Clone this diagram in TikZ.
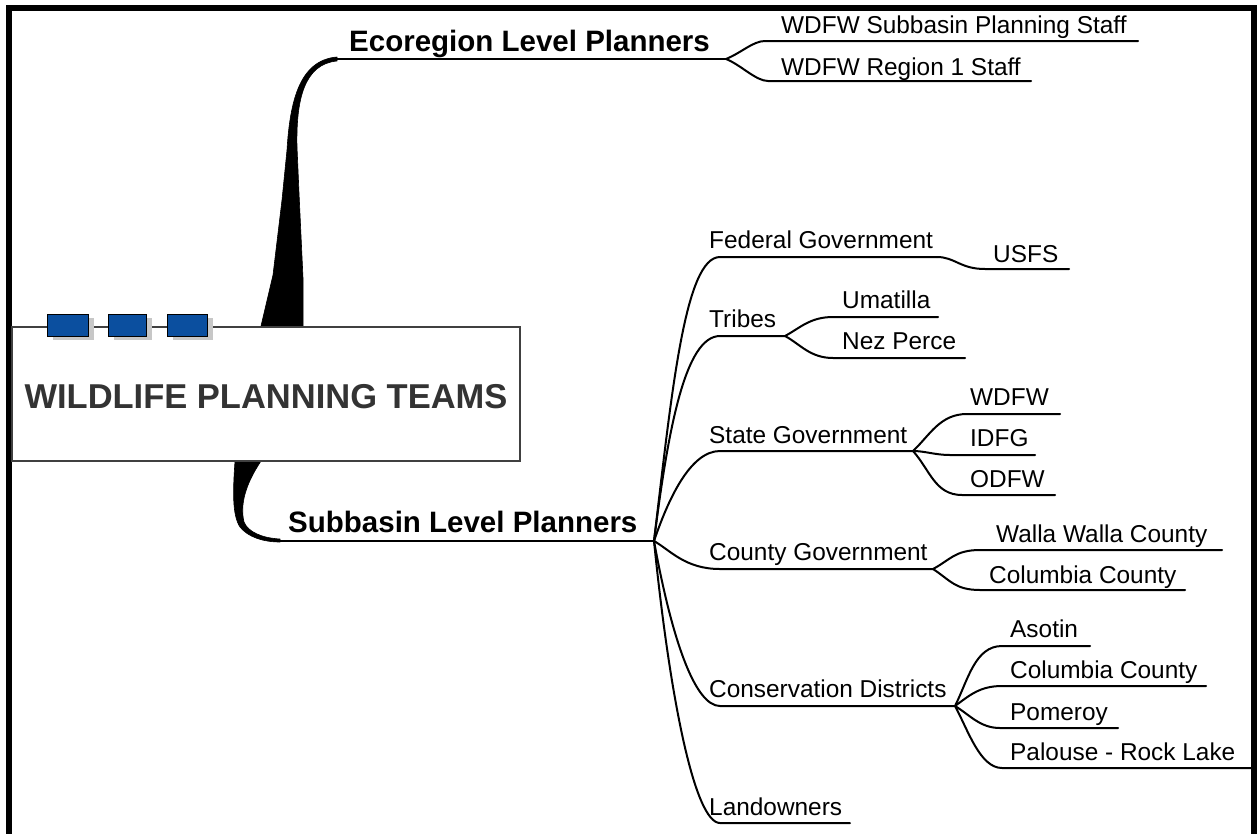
\documentclass[tikz,border=0pt]{standalone}
\usepackage{fontspec}
\setmainfont{Liberation Sans}
\definecolor{boxblue}{HTML}{0B4F9F}
\definecolor{titlegrey}{HTML}{333333}
\tikzset{
  conn/.style={line width=2pt, line cap=round, line join=round},
  lbl/.style={anchor=base west, inner sep=0pt, font=\fontsize{24.4}{28}\selectfont},
  blbl/.style={anchor=base west, inner sep=0pt, font=\bfseries\fontsize{29.5}{34}\selectfont},
  bluebox/.style={fill=boxblue, draw=black, line width=1pt},
  shadowbox/.style={fill=black!22, draw=none},
  frame/.style={line width=6pt, line join=miter},
  taper/.style={fill=black, draw=black, line width=0.6pt, line join=round},
}
\begin{document}
\begin{tikzpicture}[x=1pt, y=-1pt]
\useasboundingbox (0,0) rectangle (1257,833);
\fill[white] (0,0) rectangle (1257,833);
% frame
\draw[frame] (9,840) -- (9,7.5) -- (1253.5,7.5) -- (1253.5,840);

% coordinates: main branches
\coordinate (eco-s) at (337,59);
\coordinate (eco-e) at (726,59);
\coordinate (sub-s) at (277,541);
\coordinate (sub-e) at (654,541);

% tapered branches from the central box
\fill[taper] (261,345) -- (261,326) -- (273,275) -- (282,200) -- (287,150)
   .. controls (290,100) and (300,60) .. (337,57) -- (337,61)
   .. controls (304,64) and (296,100) .. (297,147) -- (299,193) -- (303,278) -- (303,345) -- cycle;
\fill[taper] (235,440) -- (235,461) .. controls (233,490) and (232,515) .. (240,527)
   .. controls (248,537) and (263,542) .. (280,542) -- (280,539)
   .. controls (262,538) and (248,532) .. (244,522)
   .. controls (240,505) and (245,485) .. (261,461) -- (261,440) -- cycle;
\draw[conn] (eco-s) -- (eco-e);
\draw[conn] (sub-s) -- (sub-e);

% central box
\draw[fill=white, draw=black!75, line width=1.2pt] (12,327) rectangle (520,461);
\node[anchor=base, inner sep=0pt, text=titlegrey, font=\bfseries\fontsize{34.5}{40}\selectfont] (title) at (266,408) {WILDLIFE PLANNING TEAMS};
% blue tabs
\foreach \a/\b [count=\i] in {47/88,108/146,167/207}{
  \fill[shadowbox] (\a+6,317.5) rectangle (\b+6,339.5);
  \draw[bluebox] (\a,314) rectangle (\b,336);
}

% main labels
\node[blbl] (eco) at (349,51) {Ecoregion Level Planners};
\node[blbl] (sub) at (288,532) {Subbasin Level Planners};

% ecoregion children
\node[lbl] (wsps) at (781,33) {WDFW Subbasin Planning Staff};
\node[lbl] (wr1) at (781,75) {WDFW Region 1 Staff};
\coordinate (wsps-s) at (765,41); \coordinate (wsps-e) at (1138,41);
\coordinate (wr1-s) at (768,81); \coordinate (wr1-e) at (1031,81);
\draw[conn] (eco-e) .. controls +(15,-6) and +(-12,0) .. (wsps-s) -- (wsps-e);
\draw[conn] (eco-e) .. controls +(15,6) and +(-12,0) .. (wr1-s) -- (wr1-e);

% subbasin children
\node[lbl] (fed) at (709,248) {Federal Government};
\node[lbl] (tri) at (709,327) {Tribes};
\node[lbl] (sta) at (709,443) {State Government};
\node[lbl] (cou) at (709,560) {County Government};
\node[lbl] (con) at (709,697) {Conservation Districts};
\node[lbl] (lan) at (709,815) {Landowners};
\coordinate (fed-s) at (720,257); \coordinate (fed-e) at (937,257);
\coordinate (tri-s) at (720,336); \coordinate (tri-e) at (785,336);
\coordinate (sta-s) at (720,451); \coordinate (sta-e) at (913,451);
\coordinate (cou-s) at (720,569); \coordinate (cou-e) at (933,569);
\coordinate (con-s) at (720,706); \coordinate (con-e) at (955,706);
\coordinate (lan-s) at (720,823); \coordinate (lan-e) at (850,823);
\draw[conn] (sub-e) .. controls +(18,-151) and +(-35,0) .. (fed-s) -- (fed-e);
\draw[conn] (sub-e) .. controls +(14,-111) and +(-35,0) .. (tri-s) -- (tri-e);
\draw[conn] (sub-e) .. controls +(14,-41) and +(-30,0) .. (sta-s) -- (sta-e);
\draw[conn] (sub-e) .. controls +(16,9) and +(-35,0) .. (cou-s) -- (cou-e);
\draw[conn] (sub-e) .. controls +(18,99) and +(-25,0) .. (con-s) -- (con-e);
\draw[conn] (sub-e) .. controls +(16,159) and +(-25,0) .. (lan-s) -- (lan-e);

% federal
\node[lbl] (usfs) at (993,262) {USFS};
\coordinate (usfs-s) at (985,269); \coordinate (usfs-e) at (1069,269);
\draw[conn] (fed-e) .. controls +(18,0) and +(-25,0) .. (usfs-s) -- (usfs-e);

% tribes
\node[lbl] (uma) at (842,308) {Umatilla};
\node[lbl] (nez) at (842,349) {Nez Perce};
\coordinate (uma-s) at (833,317); \coordinate (uma-e) at (938,317);
\coordinate (nez-s) at (833,358); \coordinate (nez-e) at (965,358);
\draw[conn] (tri-e) .. controls +(15,-8) and +(-23,0) .. (uma-s) -- (uma-e);
\draw[conn] (tri-e) .. controls +(15,8) and +(-23,0) .. (nez-s) -- (nez-e);

% state
\node[lbl] (wdfw) at (970,405) {WDFW};
\node[lbl] (idfg) at (970,446) {IDFG};
\node[lbl] (odfw) at (970,487) {ODFW};
\coordinate (wdfw-s) at (967,414); \coordinate (wdfw-e) at (1060,414);
\coordinate (idfg-s) at (950,455); \coordinate (idfg-e) at (1035,455);
\coordinate (odfw-s) at (962,495); \coordinate (odfw-e) at (1055,495);
\draw[conn] (sta-e) .. controls +(17,-16) and +(-27,0) .. (wdfw-s) -- (wdfw-e);
\draw[conn] (sta-e) .. controls +(12,0) and +(-15,0) .. (idfg-s) -- (idfg-e);
\draw[conn] (sta-e) .. controls +(17,19) and +(-27,0) .. (odfw-s) -- (odfw-e);

% county
\node[lbl] (wal) at (996,542) {Walla Walla County};
\node[lbl] (col) at (989,583) {Columbia County};
\coordinate (wal-s) at (980,550); \coordinate (wal-e) at (1222,550);
\coordinate (col-s) at (980,590); \coordinate (col-e) at (1185,590);
\draw[conn] (cou-e) .. controls +(17,-9) and +(-25,0) .. (wal-s) -- (wal-e);
\draw[conn] (cou-e) .. controls +(17,11) and +(-25,0) .. (col-s) -- (col-e);

% conservation districts
\node[lbl] (aso) at (1010,637) {Asotin};
\node[lbl] (ccd) at (1010,678) {Columbia County};
\node[lbl] (pom) at (1010,720) {Pomeroy};
\node[lbl] (pal) at (1010,760) {Palouse - Rock Lake};
\coordinate (aso-s) at (1002,646); \coordinate (aso-e) at (1090,646);
\coordinate (ccd-s) at (1002,686); \coordinate (ccd-e) at (1206,686);
\coordinate (pom-s) at (1000,728); \coordinate (pom-e) at (1118,728);
\coordinate (pal-s) at (1002,768); \coordinate (pal-e) at (1252,768);
\draw[conn] (con-e) .. controls +(13,-26) and +(-27,0) .. (aso-s) -- (aso-e);
\draw[conn] (con-e) .. controls +(15,-11) and +(-22,0) .. (ccd-s) -- (ccd-e);
\draw[conn] (con-e) .. controls +(15,9) and +(-20,0) .. (pom-s) -- (pom-e);
\draw[conn] (con-e) .. controls +(13,24) and +(-22,0) .. (pal-s) -- (pal-e);
\end{tikzpicture}
\end{document}
